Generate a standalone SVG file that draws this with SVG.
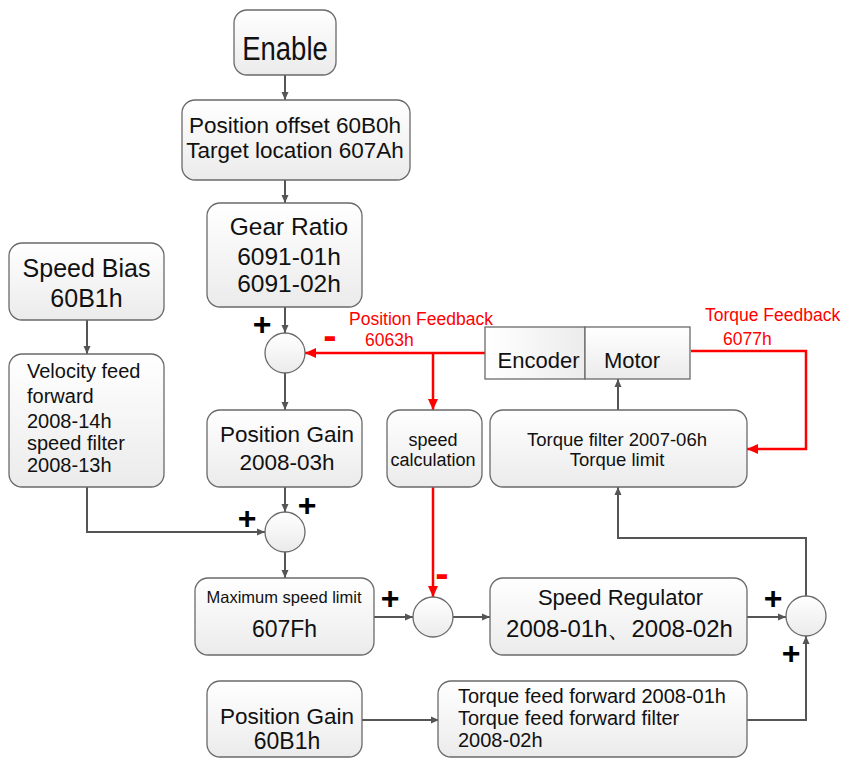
<svg xmlns="http://www.w3.org/2000/svg" width="854" height="758" viewBox="0 0 854 758">
<defs>
<linearGradient id="g" x1="0" y1="0" x2="0" y2="1"><stop offset="0" stop-color="#ffffff"/><stop offset="1" stop-color="#ebebeb"/></linearGradient>
<linearGradient id="gh" x1="0" y1="0" x2="1" y2="0"><stop offset="0" stop-color="#ffffff"/><stop offset="1" stop-color="#ececec"/></linearGradient>
<marker id="a" markerWidth="9" markerHeight="8" refX="8" refY="4" orient="auto" markerUnits="userSpaceOnUse"><path d="M0,0.5 L8,4 L0,7.5 z" fill="#555"/></marker>
<marker id="ar" markerWidth="12" markerHeight="10" refX="11" refY="5" orient="auto" markerUnits="userSpaceOnUse"><path d="M0,0 L11,5 L0,10 z" fill="#ff0000"/></marker>
<style>
.box{fill:url(#g);stroke:#6a6a6a;stroke-width:1.3}
.sum{fill:url(#g);stroke:#6a6a6a;stroke-width:1.3}
.t{font-family:"Liberation Sans",Arial,sans-serif;fill:#111}
.c{text-anchor:middle}
.red{font-family:"Liberation Sans",Arial,sans-serif;fill:#ff0000;font-size:17.5px}
.ln{fill:none;stroke:#555;stroke-width:2;marker-end:url(#a)}
.lr{fill:none;stroke:#ff0000;stroke-width:2.5;marker-end:url(#ar)}
.pl{font-family:"Liberation Sans",Arial,sans-serif;font-weight:bold;font-size:32px;fill:#000;text-anchor:middle}
.mi{font-family:"Liberation Sans",Arial,sans-serif;font-weight:bold;font-size:40px;fill:#ff0000;text-anchor:middle}
</style>
</defs>
<g id="connectors">
<path class="ln" d="M285,75 V100"/>
<path class="ln" d="M285,180 V203"/>
<path class="ln" d="M285,307 V333"/>
<path class="ln" d="M285,373 V410"/>
<path class="ln" d="M285,487 V512"/>
<path class="ln" d="M285,552 V578"/>
<path class="ln" d="M87,320 V354"/>
<path class="ln" d="M87,487 V532 H265"/>
<path class="ln" d="M374,617 H413"/>
<path class="ln" d="M453,617 H490"/>
<path class="ln" d="M747,617 H786"/>
<path class="ln" d="M806,596 V538 H618 V487"/>
<path class="ln" d="M618,410 V379"/>
<path class="ln" d="M362,720 H439"/>
<path class="ln" d="M747,720 H806 V636"/>
<path class="lr" d="M485,353 H305"/>
<path class="lr" d="M433,353 V410"/>
<path class="lr" d="M433,487 V597"/>
<path class="lr" d="M691,351 H806 V449 H747"/>
</g>
<g id="enable"><rect class="box" x="234" y="10" width="102" height="65" rx="13"/><text class="t c" transform="translate(285,60) scale(1,1.22)" x="0" y="0" font-size="27.5">Enable</text></g>
<g id="position-offset"><rect class="box" x="182" y="100" width="228" height="80" rx="13"/><text class="t c" x="295" y="133" font-size="22.5">Position offset 60B0h</text><text class="t c" x="295" y="158" font-size="22.5">Target location 607Ah</text></g>
<g id="gear-ratio"><rect class="box" x="207" y="203" width="155" height="104" rx="13"/><text class="t c" x="289" y="235" font-size="24.5">Gear Ratio</text><text class="t c" x="289" y="265" font-size="24.5">6091-01h</text><text class="t c" x="289" y="292" font-size="24.5">6091-02h</text></g>
<g id="speed-bias"><rect class="box" x="9" y="243" width="155" height="77" rx="13"/><text class="t c" x="86.5" y="277" font-size="25">Speed Bias</text><text class="t c" x="86.5" y="307" font-size="25">60B1h</text></g>
<g id="velocity-ff"><rect class="box" x="9" y="354" width="155" height="133" rx="13"/><text class="t" x="27" y="378" font-size="20">Velocity feed</text><text class="t" x="27" y="403" font-size="20">forward</text><text class="t" x="27" y="428" font-size="20">2008-14h</text><text class="t" x="27" y="450" font-size="20">speed filter</text><text class="t" x="27" y="472" font-size="20">2008-13h</text></g>
<g id="sum1"><circle class="sum" cx="285" cy="353" r="20"/></g>
<g id="position-gain"><rect class="box" x="207" y="410" width="155" height="77" rx="13"/><text class="t c" x="287" y="442" font-size="22.5">Position Gain</text><text class="t c" x="287" y="470" font-size="22.5">2008-03h</text></g>
<g id="speed-calc"><rect class="box" x="387" y="410" width="95" height="77" rx="13"/><text class="t c" x="433" y="446" font-size="18">speed</text><text class="t c" x="433" y="466" font-size="18">calculation</text></g>
<g id="encoder-motor"><rect x="485" y="327" width="100" height="52" fill="url(#gh)" stroke="#6a6a6a" stroke-width="1.3"/><rect x="585" y="327" width="105" height="52" fill="url(#g)" stroke="#6a6a6a" stroke-width="1.3"/><text class="t c" x="538.5" y="368" font-size="22">Encoder</text><text class="t c" x="632" y="368" font-size="22">Motor</text></g>
<g id="torque-filter"><rect class="box" x="490" y="410" width="257" height="77" rx="13"/><text class="t c" x="617" y="446" font-size="18.5">Torque filter 2007-06h</text><text class="t c" x="617" y="466" font-size="18.5">Torque limit</text></g>
<g id="sum2"><circle class="sum" cx="285" cy="532" r="20"/></g>
<g id="max-speed"><rect class="box" x="195" y="578" width="179" height="77" rx="13"/><text class="t c" x="284" y="603" font-size="16.5">Maximum speed limit</text><text class="t c" x="284.5" y="637" font-size="23">607Fh</text></g>
<g id="sum3"><circle class="sum" cx="433" cy="617" r="20"/></g>
<g id="speed-regulator"><rect class="box" x="490" y="578" width="257" height="77" rx="13"/><text class="t c" x="620.5" y="605" font-size="22">Speed Regulator</text><text class="t c" x="619.5" y="637" font-size="24" font-family="'Liberation Sans','Noto Sans CJK SC',sans-serif">2008-01h、2008-02h</text></g>
<g id="sum4"><circle class="sum" cx="806" cy="616" r="20"/></g>
<g id="position-gain-2"><rect class="box" x="207" y="681" width="155" height="76" rx="13"/><text class="t c" x="287" y="724" font-size="22.5">Position Gain</text><text class="t c" x="287" y="749" font-size="23">60B1h</text></g>
<g id="torque-ff"><rect class="box" x="438" y="681" width="309" height="76" rx="13"/><text class="t" x="458" y="703" font-size="20">Torque feed forward 2008-01h</text><text class="t" x="458" y="725" font-size="20">Torque feed forward filter</text><text class="t" x="458" y="747" font-size="20">2008-02h</text></g>
<g id="labels">
<text class="red" x="349" y="325">Position Feedback</text>
<text class="red" x="365" y="346">6063h</text>
<text class="red" x="705" y="321">Torque Feedback</text>
<text class="red" x="723" y="345">6077h</text>
<text class="pl" x="262" y="335">+</text>
<text class="pl" x="307" y="516">+</text>
<text class="pl" x="247" y="529">+</text>
<text class="pl" x="390" y="609">+</text>
<text class="pl" x="773" y="609">+</text>
<text class="pl" x="791" y="664">+</text>
<text class="mi" x="330" y="349">-</text>
<text class="mi" x="442" y="587">-</text>
</g>
</svg>
